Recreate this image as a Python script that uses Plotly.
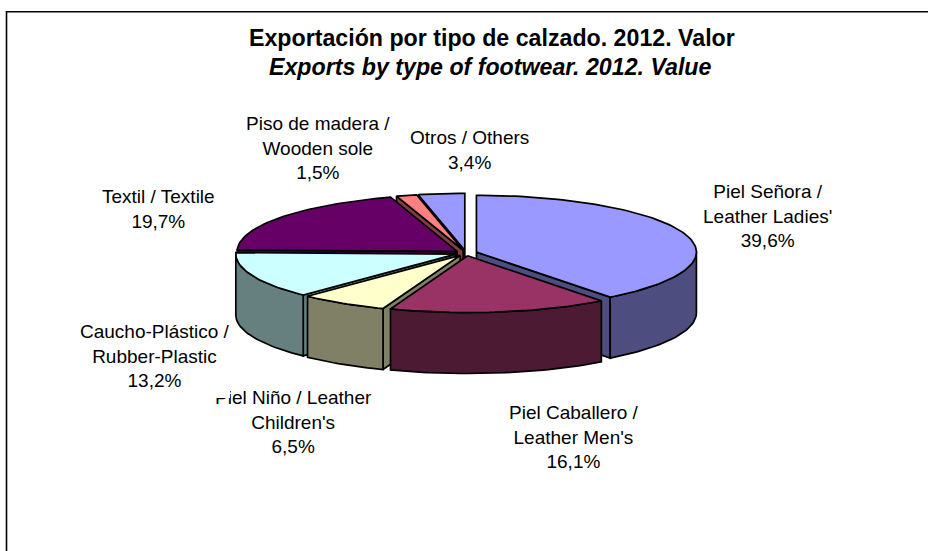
import math
import plotly.graph_objects as go

# Data
categories = ["Piel Señora", "Piel Caballero", "Piel Niño", "Caucho-Plástico", "Textil", "Piso de madera", "Otros"]
labels = ["Piel Señora /<br>Leather Ladies'<br>39,6%",
          "Piel Caballero /<br>Leather Men's<br>16,1%",
          "Piel Niño / Leather<br>Children's<br>6,5%",
          "Caucho-Plástico /<br>Rubber-Plastic<br>13,2%",
          "Textil / Textile<br>19,7%",
          "Piso de madera /<br>Wooden sole<br>1,5%",
          "Otros / Others<br>3,4%"]
values = [39.6, 16.1, 6.5, 13.2, 19.7, 1.5, 3.4]
top_colors = ["#9999FF", "#993366", "#FFFFCC", "#CCFFFF", "#660066", "#FF8080", "#9999FF"]
side_colors = ["#4D4D80", "#4D1A33", "#808066", "#668080", "#330033", "#804040", "#4D4D80"]
paint_order = [6, 5, 4, 0, 3, 2, 1]
label_px = [(767, 216), (574, 437), (293.5, 422), (155, 356), (158, 209), (318, 148), (469, 150)]
title_lines = ["<b>Exportación por tipo de calzado. 2012. Valor</b>",
               "<b><i>Exports by type of footwear. 2012. Value</i></b>"]
title_px = [(492, 38), (491, 67)]

# Geometry of the projected pie, in pie-radius units
W, H = 928, 551
CX, CY, A = 466.0, 253.0, 220.0
TILT, DEPTH, EXPLODE = 0.258, 0.277, 0.05

fig = go.Figure()

def poly(xs, ys, fill):
    fig.add_trace(go.Scatter(x=xs + xs[:1], y=ys + ys[:1], mode="lines", fill="toself",
                             fillcolor=fill, line=dict(color="black", width=1.7),
                             hoverinfo="skip", showlegend=False))

total = sum(values)
angles = []
cum = 0.0
for v in values:
    t0 = math.pi / 2 - 2 * math.pi * cum / total
    cum += v
    angles.append((t0, math.pi / 2 - 2 * math.pi * cum / total))

for i in paint_order:
    t0, t1 = angles[i]
    mid = (t0 + t1) / 2
    ox = EXPLODE * math.cos(mid)
    oy = EXPLODE * math.sin(mid) * TILT
    n = max(4, int(abs(t0 - t1) * 40))
    ts = [t0 + (t1 - t0) * k / n for k in range(n + 1)]
    rx = [ox + math.cos(t) for t in ts]
    ry = [oy + math.sin(t) * TILT for t in ts]
    # radial walls facing the viewer
    if math.sin(t1 - math.pi / 2) < -1e-6:
        poly([ox, rx[-1], rx[-1], ox], [oy, ry[-1], ry[-1] - DEPTH, oy - DEPTH], side_colors[i])
    if math.cos(t0) < -1e-6:
        poly([ox, rx[0], rx[0], ox], [oy, ry[0], ry[0] - DEPTH, oy - DEPTH], side_colors[i])
    # outer rim, front half only
    front = [k for k in range(n + 1) if math.sin(ts[k]) <= 0.02]
    if len(front) > 1:
        fx = [rx[k] for k in front]
        fy = [ry[k] for k in front]
        poly(fx + fx[::-1], fy + [y - DEPTH for y in fy[::-1]], side_colors[i])
    # top face
    poly([ox] + rx, [oy] + ry, top_colors[i])

fig.update_xaxes(range=[(0 - CX) / A, (W - CX) / A], visible=False, fixedrange=True)
fig.update_yaxes(range=[(CY - H) / A, CY / A], visible=False, fixedrange=True)

FONT = "Liberation Sans, Arial, sans-serif"
ann = [dict(x=px / W, y=1 - py / H, xref="paper", yref="paper", text=t, showarrow=False,
            align="center", xanchor="center", yanchor="middle",
            font=dict(family=FONT, size=19, color="black"))
       for t, (px, py) in zip(labels, label_px)]
ann += [dict(x=px / W, y=1 - py / H, xref="paper", yref="paper", text=t, showarrow=False,
             align="center", xanchor="center", yanchor="middle",
             font=dict(family=FONT, size=23.2, color="black"))
        for t, (px, py) in zip(title_lines, title_px)]
# white patch that hides the top of the "Pi" of the Piel Niño label, as in the reference
ann.append(dict(x=205 / W, y=1 - 384 / H, xref="paper", yref="paper", showarrow=False, text=" ",
                xanchor="left", yanchor="top", width=24.5, height=13.5, bgcolor="white",
                borderpad=0, borderwidth=0, font=dict(size=2)))
frame = [dict(type="line", xref="paper", yref="paper", x0=6.5 / W, x1=1, y0=1 - 11.7 / H, y1=1 - 11.7 / H,
              line=dict(color="black", width=1.6)),
         dict(type="line", xref="paper", yref="paper", x0=6.5 / W, x1=6.5 / W, y0=1 - 11 / H, y1=0,
              line=dict(color="black", width=1.6))]
fig.update_layout(width=W, height=H, margin=dict(l=0, r=0, t=0, b=0), autosize=False,
                  paper_bgcolor="white", plot_bgcolor="white", annotations=ann, shapes=frame)
fig.write_html("out.html", config={"displayModeBar": False},
               post_script="document.body.style.margin='0';document.body.style.overflow='hidden';")
